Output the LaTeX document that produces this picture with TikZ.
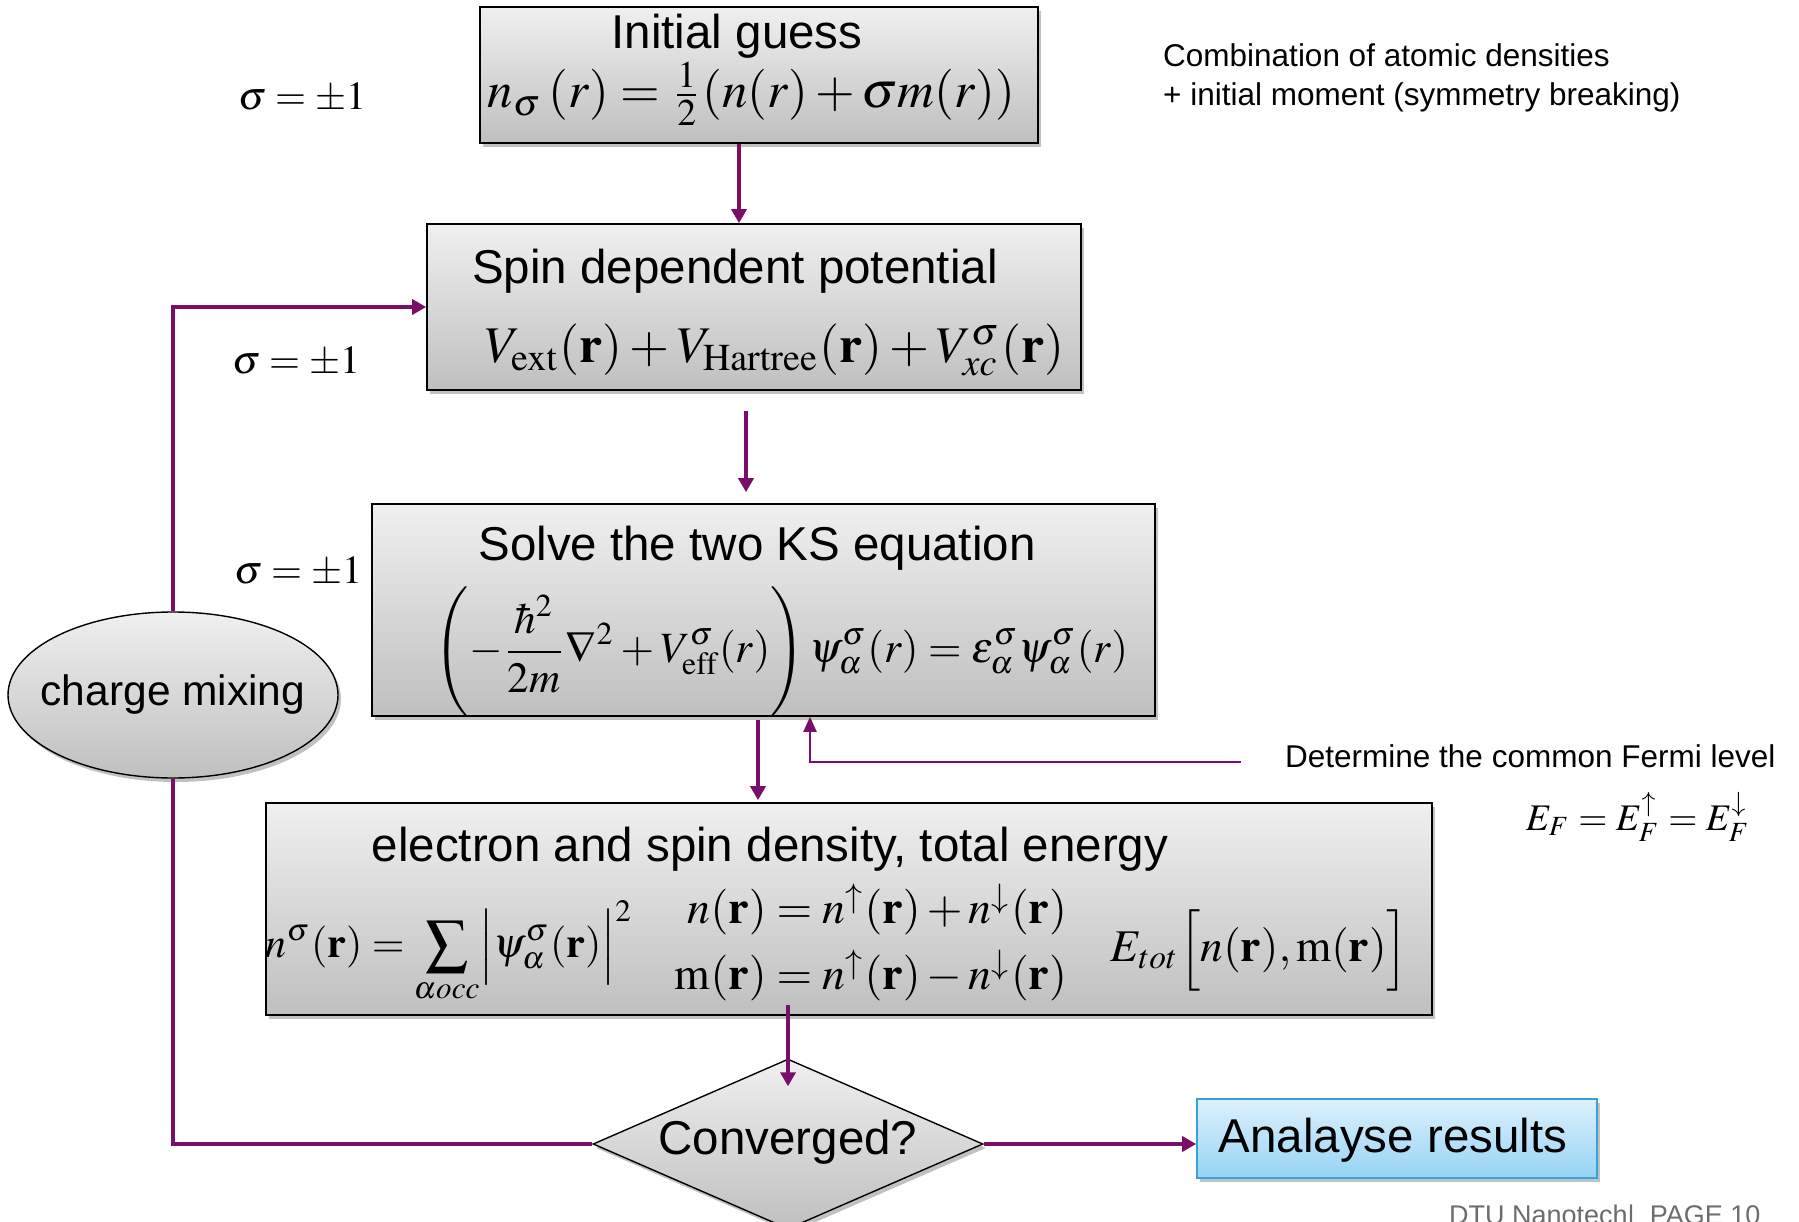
\documentclass[tikz,border=0pt]{standalone}
\usepackage{amsmath}
\usepackage{mathptmx}
\usepackage[no-math]{fontspec}
\setmainfont{Liberation Sans}
\usepackage{graphicx}
\usetikzlibrary{shapes.geometric, arrows.meta, calc, shadows}
\definecolor{purp}{HTML}{7A0F6A}
\definecolor{blueborder}{HTML}{3AA0D8}
\definecolor{bluetop}{HTML}{DDF1FC}
\definecolor{bluebot}{HTML}{96D3F5}
\newcommand\ttlfont{\fontsize{47.5}{57}\selectfont}
\newcommand\notefont{\fontsize{31.5}{38}\selectfont}
\begin{document}
\begin{tikzpicture}[x=1pt, y=-1pt,
  grayfill/.style={top color=gray!12, bottom color=gray!50,
     drop shadow={shadow xshift=3pt, shadow yshift=-4pt, opacity=.35, fill=black!70}},
  stepbox/.style={rectangle, draw=black, line width=1.6pt, grayfill, inner sep=0pt},
  flow/.style={draw=purp, line width=4pt, -{Triangle[width=15pt,length=14pt]}},
  thinflow/.style={draw=purp, line width=2pt, -{Triangle[width=13pt,length=15pt]}},
  loopline/.style={draw=purp, line width=4pt},
  ttl/.style={font=\ttlfont, inner sep=0pt},
  note/.style={font=\notefont, inner sep=0pt},
  mth/.style={inner sep=0pt}
]
\useasboundingbox (0,0) rectangle (1799,1222);

% boxes
\node[stepbox, minimum width=558pt, minimum height=136pt] (b1) at (759,75) {};
\node[stepbox, minimum width=654pt, minimum height=166pt] (b2) at (754,307) {};
\node[stepbox, minimum width=783pt, minimum height=212pt] (b3) at (763.5,610) {};
\node[stepbox, minimum width=1166pt, minimum height=212pt] (b4) at (849,909) {};
\node[ellipse, draw=black, line width=1.4pt, grayfill, minimum width=330pt, minimum height=166pt, inner sep=0pt] (cm) at (173,695) {};
\node[diamond, draw=black, line width=1.4pt, grayfill, minimum width=390pt, minimum height=170pt, inner sep=0pt] (d) at (788,1144) {};
\node[rectangle, draw=blueborder, line width=1.6pt, top color=bluetop, bottom color=bluebot,
      drop shadow={shadow xshift=3pt, shadow yshift=-4pt, opacity=.35, fill=black!70},
      minimum width=400pt, minimum height=79pt, inner sep=0pt] (ar) at (1397,1138.5) {};

% connectors
\draw[flow] ($(b1.south)+(-20,0)$) -- ($(b2.north)+(-15,0)$);
\draw[flow] ($(b2.south)+(-8,20)$) -- ($(b3.north)+(-17.5,-11)$);
\draw[flow] ($(b3.south)+(-5.5,3)$) -- ($(b4.north)+(-91,-2)$);
\draw[flow] ($(b4.south)+(0,-11)-(61,0)$) -- ($(d.north)+(0,28)$);
\draw[flow] (d.east) -- (d.east -| ar.west);
\draw[loopline] (d.west) -| (cm.south);
\draw[flow] (cm.north) |- (b2.west);
\coordinate (fe) at (1241,762);
\draw[thinflow] (fe) -| ($(b3.south)+(46.5,0)$);

% titles
\node[ttl, anchor=base] (t1) at (737,49) {Initial guess};
\node[ttl, anchor=base west] (t2) at (472,284) {Spin dependent potential};
\node[ttl, anchor=base] (t3) at (757,560) {Solve the two KS equation};
\node[ttl, anchor=base] (t4) at (770,861) {electron and spin density, total energy};
\node[font=\fontsize{42.5}{50}\selectfont, inner sep=0pt] (tcm) at (cm.center) {charge mixing};
\node[ttl] (td) at (788,1142) {Converged?};
\node[ttl] (tar) at (1393,1140) {Analayse results};

% formulas
\node[mth] (f1) at (751.5,94) {\resizebox{527pt}{!}{$n_{\sigma}\,(r)=\tfrac{1}{2}(n(r)+\sigma m(r))$}};
\node[mth] (f2) at (774.5,350) {\resizebox{579pt}{!}{$V_{\mathrm{ext}}(\mathbf{r})+V_{\mathrm{Hartree}}(\mathbf{r})+V_{xc}^{\sigma}(\mathbf{r})$}};
\node[mth] (f3) at (781.5,652) {\resizebox{693pt}{!}{$\displaystyle\left(-\frac{\hbar^{2}}{2m}\nabla^{2}+V^{\sigma}_{\mathrm{eff}}(r)\rule[-11pt]{0pt}{27pt}\right)\psi^{\sigma}_{\alpha}(r)=\varepsilon^{\sigma}_{\alpha}\psi^{\sigma}_{\alpha}(r)$}};
\node[mth] (f4a) at (449.5,952) {\resizebox{367pt}{!}{$\displaystyle n^{\sigma}(\mathbf{r})=\sum_{\alpha occ}\Bigl|\psi^{\sigma}_{\alpha}(\mathbf{r})\Bigr|^{2}$}};
\node[mth] (f4b) at (871,945) {\resizebox{392pt}{!}{$\begin{array}{@{}r@{}l@{}} n(\mathbf{r}) & {}=n^{\uparrow}(\mathbf{r})+n^{\downarrow}(\mathbf{r})\\[2pt] \mathrm{m}(\mathbf{r}) & {}=n^{\uparrow}(\mathbf{r})-n^{\downarrow}(\mathbf{r})\end{array}$}};
\node[mth] (f4c) at (1259.5,950) {\resizebox{297pt}{!}{$E_{tot}\Bigl[n(\mathbf{r}),\mathrm{m}(\mathbf{r})\Bigr]$}};
\node[mth] (ff) at (1638,817) {\resizebox{224pt}{!}{$E_{F}=E_{F}^{\uparrow}=E_{F}^{\downarrow}$}};

% sigma labels
\node[mth] (s1) at (302,98) {\resizebox{128pt}{!}{$\sigma=\pm1$}};
\node[mth] (s2) at (296,362) {\resizebox{128pt}{!}{$\sigma=\pm1$}};
\node[mth] (s3) at (298,572) {\resizebox{128pt}{!}{$\sigma=\pm1$}};

% notes
\node[note, anchor=base west] (n1) at (1163,67) {Combination of atomic densities};
\node[note, anchor=base west] (n2) at (1163,106) {+ initial moment (symmetry breaking)};
\node[note, anchor=base west] (n3) at (1285,767) {Determine the common Fermi level};
\node[font=\fontsize{27}{31}\selectfont, text=gray!85!black, inner sep=0pt, anchor=base west] (foot) at (1449,1224) {DTU Nanotech|\ \ PAGE 10};
\end{tikzpicture}
\end{document}
